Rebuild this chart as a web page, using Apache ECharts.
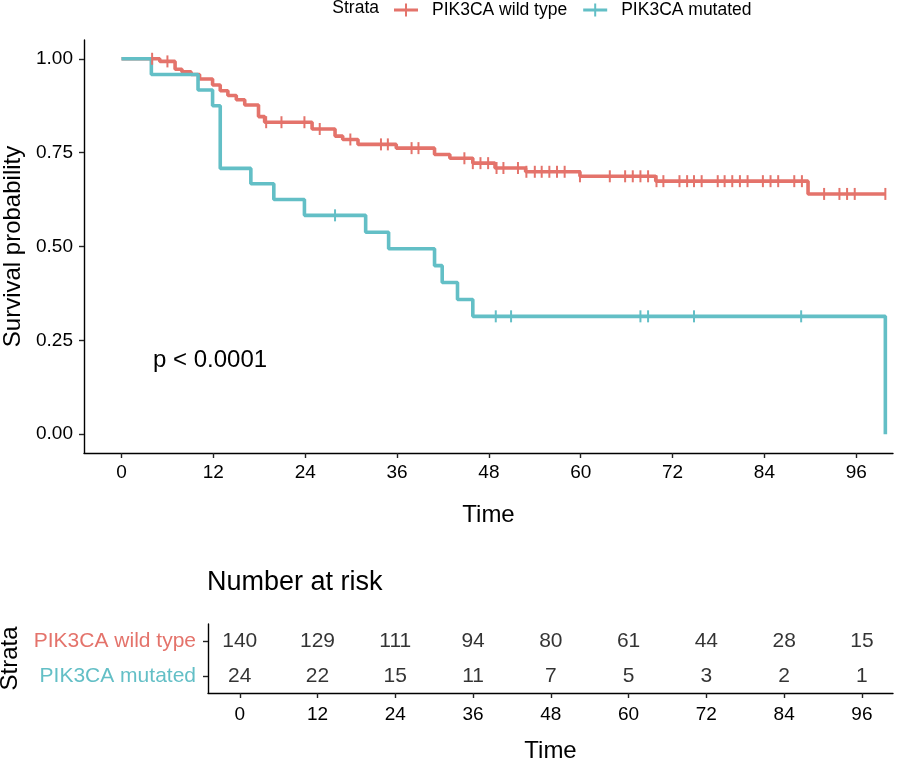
<!DOCTYPE html>
<html>
<head>
<meta charset="utf-8">
<script src="https://cdn.jsdelivr.net/npm/echarts@6/dist/echarts.min.js"></script>
<style>html,body{margin:0;padding:0;background:#fff}#c{width:900px;height:763px}</style>
</head>
<body>
<div id="c"></div>
<script>
// ---- data ----
const timeTicks = [0, 12, 24, 36, 48, 60, 72, 84, 96];
const survTicks = [0, 0.25, 0.5, 0.75, 1];
const strata = ['PIK3CA mutated', 'PIK3CA wild type'];

const wildTimes = [0, 5.0, 7.0, 7.9, 9.1, 10.2, 11.9, 12.9, 13.9, 15.0, 16.1, 17.9, 18.7, 24.9, 27.9, 28.9, 30.9, 35.9, 40.9, 42.9, 45.9, 48.8, 52.8, 59.9, 69.8, 89.7, 99.8];
const wildSurv  = [1, 0.993, 0.972, 0.965, 0.958, 0.946, 0.930, 0.915, 0.902, 0.891, 0.877, 0.846, 0.831, 0.813, 0.794, 0.785, 0.772, 0.762, 0.745, 0.735, 0.722, 0.709, 0.699, 0.687, 0.674, 0.640, 0.640];
const wildCensor = [4.0, 6.0, 18.9, 20.9, 23.9, 25.9, 29.9, 33.9, 34.8, 37.9, 38.8, 44.8, 45.9, 46.9, 47.9, 49.0, 49.9, 51.8, 52.9, 54.0, 54.9, 55.9, 56.9, 57.9, 59.9, 63.8, 65.8, 66.8, 67.8, 68.8, 69.9, 70.8, 72.9, 73.9, 74.8, 75.8, 77.9, 78.8, 79.8, 80.8, 81.8, 83.8, 84.8, 85.8, 87.9, 88.9, 91.8, 93.8, 94.8, 95.8, 99.8];

const mutTimes = [0, 3.9, 10.0, 11.9, 12.9, 16.9, 19.9, 23.9, 31.9, 34.9, 40.9, 41.9, 43.9, 45.9, 99.8];
const mutSurv  = [1, 0.958, 0.917, 0.875, 0.708, 0.667, 0.625, 0.583, 0.538, 0.494, 0.449, 0.404, 0.359, 0.314, 0];
const mutCensor = [27.9, 48.9, 50.9, 67.8, 68.8, 74.8, 88.8];

const riskTimes = [0, 12, 24, 36, 48, 60, 72, 84, 96];
const riskWild = [140, 129, 111, 94, 80, 61, 44, 28, 15];
const riskMut  = [24, 22, 15, 11, 7, 5, 3, 2, 1];

// ---- styling ----
const RED = '#E4736B';
const TEAL = '#63BFC6';
const FONT = '"Liberation Sans", Arial, sans-serif';
const crossIcon = 'path://M0,5h24v3H0z M11,0h2v13h-2z';

function survAt(times, surv, t) {
  let v = surv[0];
  for (let i = 0; i < times.length; i++) { if (times[i] <= t) v = surv[i]; }
  return v;
}

const axisLineStyle = { color: '#000', width: 1.4 };
const tickStyle = { color: '#222', width: 1.4 };

const chart = echarts.init(document.getElementById('c'), null, { renderer: 'canvas' });
chart.setOption({
  animation: false,
  backgroundColor: '#fff',
  textStyle: { fontFamily: FONT },
  grid: [
    { left: 84, top: 40, width: 809, height: 413, containLabel: false, outerBoundsMode: 'none' },
    { left: 208, top: 624, width: 685, height: 69, containLabel: false, outerBoundsMode: 'none' }
  ],
  legend: {
    left: 394, top: 1, padding: 0, itemWidth: 24, itemHeight: 13, itemGap: 16,
    textStyle: { fontSize: 17.5, color: '#000', fontFamily: FONT, padding: [0, 0, 0, 9] },
    data: [{ name: 'PIK3CA wild type', icon: crossIcon }, { name: 'PIK3CA mutated', icon: crossIcon }],
    selectedMode: false
  },
  xAxis: [
    {
      gridIndex: 0, type: 'value', min: -4.9, max: 100.8,
      name: 'Time', nameLocation: 'middle', nameGap: 50,
      nameTextStyle: { fontSize: 24, color: '#000', fontFamily: FONT },
      axisLine: { show: true, onZero: false, lineStyle: axisLineStyle },
      axisTick: { show: true, length: 5, customValues: timeTicks, lineStyle: tickStyle },
      axisLabel: { customValues: timeTicks, fontSize: 19, color: '#000', margin: 10 },
      splitLine: { show: false }
    },
    {
      gridIndex: 1, type: 'value', min: -4.9, max: 100.8,
      name: 'Time', nameLocation: 'middle', nameGap: 46,
      nameTextStyle: { fontSize: 24, color: '#000', fontFamily: FONT },
      axisLine: { show: true, onZero: false, lineStyle: axisLineStyle },
      axisTick: { show: true, length: 5, customValues: timeTicks, lineStyle: tickStyle },
      axisLabel: { customValues: timeTicks, fontSize: 19, color: '#000', margin: 12 },
      splitLine: { show: false }
    }
  ],
  yAxis: [
    {
      gridIndex: 0, type: 'value', min: -0.05, max: 1.05,
      name: 'Survival probability', nameLocation: 'middle', nameGap: 58, nameRotate: 90,
      nameTextStyle: { fontSize: 24, color: '#000', fontFamily: FONT },
      axisLine: { show: true, onZero: false, lineStyle: axisLineStyle },
      axisTick: { show: true, length: 5, customValues: survTicks, lineStyle: tickStyle },
      axisLabel: { customValues: survTicks, fontSize: 19, color: '#000', margin: 11, formatter: v => Number(v).toFixed(2) },
      splitLine: { show: false }
    },
    {
      gridIndex: 1, type: 'category', data: strata,
      name: 'Strata', nameLocation: 'middle', nameGap: 183, nameRotate: 90,
      nameTextStyle: { fontSize: 24, color: '#000', fontFamily: FONT },
      axisLine: { show: true, onZero: false, lineStyle: axisLineStyle },
      axisTick: { show: true, length: 5, alignWithLabel: true, lineStyle: tickStyle },
      axisLabel: { fontSize: 21, margin: 12, color: (v) => v === 'PIK3CA wild type' ? RED : TEAL },
      splitLine: { show: false }
    }
  ],
  graphic: [
    { type: 'text', x: 379, y: 8, style: { text: 'Strata', fill: '#000', font: '17.5px ' + FONT, align: 'right', verticalAlign: 'middle' } },
    { type: 'text', x: 153, y: 360, style: { text: 'p < 0.0001', fill: '#000', font: '24px ' + FONT, align: 'left', verticalAlign: 'middle' } },
    { type: 'text', x: 207, y: 583, style: { text: 'Number at risk', fill: '#000', font: '27px ' + FONT, align: 'left', verticalAlign: 'middle' } }
  ],
  series: [
    {
      name: 'PIK3CA wild type', type: 'line', xAxisIndex: 0, yAxisIndex: 0, step: 'end',
      symbol: 'none', showSymbol: false,
      lineStyle: { color: RED, width: 3.6 }, itemStyle: { color: RED },
      data: wildTimes.map((t, i) => [t, wildSurv[i]]), z: 2
    },
    {
      name: 'PIK3CA mutated', type: 'line', xAxisIndex: 0, yAxisIndex: 0, step: 'end',
      symbol: 'none', showSymbol: false,
      lineStyle: { color: TEAL, width: 3.6 }, itemStyle: { color: TEAL },
      data: mutTimes.map((t, i) => [t, mutSurv[i]]), z: 3
    },
    {
      name: 'PIK3CA wild type', type: 'scatter', xAxisIndex: 0, yAxisIndex: 0,
      symbol: 'rect', symbolSize: [2, 12], itemStyle: { color: RED, opacity: 1 },
      data: wildCensor.map(t => [t, survAt(wildTimes, wildSurv, t)]), z: 4
    },
    {
      name: 'PIK3CA mutated', type: 'scatter', xAxisIndex: 0, yAxisIndex: 0,
      symbol: 'rect', symbolSize: [2, 12], itemStyle: { color: TEAL, opacity: 1 },
      data: mutCensor.map(t => [t, survAt(mutTimes, mutSurv, t)]), z: 5
    },
    {
      type: 'scatter', xAxisIndex: 1, yAxisIndex: 1, symbolSize: 1,
      itemStyle: { color: 'rgba(0,0,0,0)' },
      label: { show: true, position: 'inside', formatter: p => String(p.value[2]), fontSize: 21, color: '#000', fontFamily: FONT },
      data: riskTimes.map((t, i) => [t, 1, riskWild[i]]).concat(riskTimes.map((t, i) => [t, 0, riskMut[i]]))
    }
  ]
});
</script>
</body>
</html>
